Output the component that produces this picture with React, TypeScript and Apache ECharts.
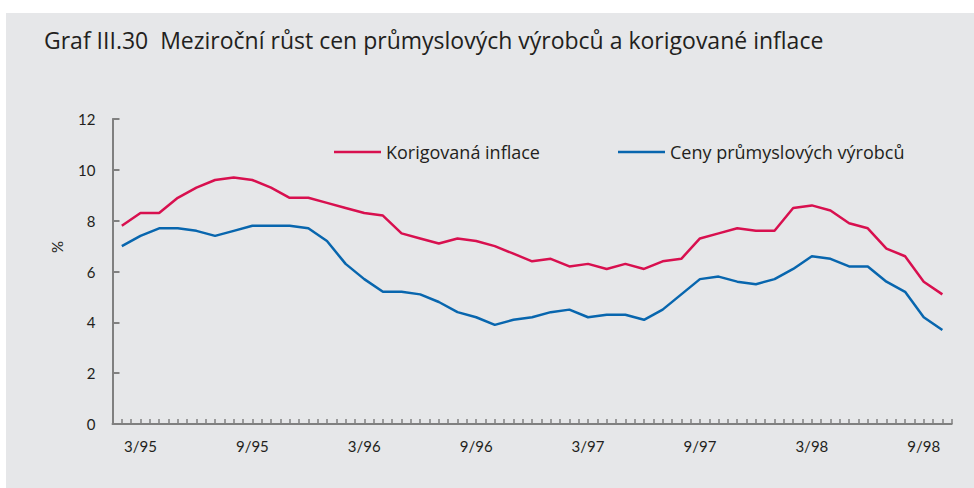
import React, { useEffect, useRef } from "react";
import * as echarts from "echarts";

const months = [
  "2/95", "3/95", "4/95", "5/95", "6/95", "7/95", "8/95", "9/95", "10/95", "11/95", "12/95",
  "1/96", "2/96", "3/96", "4/96", "5/96", "6/96", "7/96", "8/96", "9/96", "10/96", "11/96", "12/96",
  "1/97", "2/97", "3/97", "4/97", "5/97", "6/97", "7/97", "8/97", "9/97", "10/97", "11/97", "12/97",
  "1/98", "2/98", "3/98", "4/98", "5/98", "6/98", "7/98", "8/98", "9/98", "10/98",
];

const korigovanaInflace = [
  7.8, 8.3, 8.3, 8.9, 9.3, 9.6, 9.7, 9.6, 9.3, 8.9, 8.9,
  8.7, 8.5, 8.3, 8.2, 7.5, 7.3, 7.1, 7.3, 7.2, 7.0, 6.7, 6.4,
  6.5, 6.2, 6.3, 6.1, 6.3, 6.1, 6.4, 6.5, 7.3, 7.5, 7.7, 7.6,
  7.6, 8.5, 8.6, 8.4, 7.9, 7.7, 6.9, 6.6, 5.6, 5.1,
];

const cenyPrumyslovychVyrobcu = [
  7.0, 7.4, 7.7, 7.7, 7.6, 7.4, 7.6, 7.8, 7.8, 7.8, 7.7,
  7.2, 6.3, 5.7, 5.2, 5.2, 5.1, 4.8, 4.4, 4.2, 3.9, 4.1, 4.2,
  4.4, 4.5, 4.2, 4.3, 4.3, 4.1, 4.5, 5.1, 5.7, 5.8, 5.6, 5.5,
  5.7, 6.1, 6.6, 6.5, 6.2, 6.2, 5.6, 5.2, 4.2, 3.7,
];

const seriesNames = ["Korigovaná inflace", "Ceny průmyslových výrobců"];
const titleText = "Graf III.30  Meziroční růst cen průmyslových výrobců a korigované inflace";
const yUnit = "%";
const yMin = 0;
const yMax = 12;
const yStep = 2;

export default function App() {
  const ref = useRef<HTMLDivElement>(null);

  useEffect(() => {
    document.body.style.margin = "0";
    const chart = echarts.init(ref.current!, null, { renderer: "svg" });
    const font = "'Open Sans', Lato, sans-serif";
    const tickFont = "Lato, 'Open Sans', sans-serif";
    const textColor = "#231f20";
    const axisColor = "#808080";
    const red = "#d8104f";
    const blue = "#0866ae";
    chart.setOption({
      animation: false,
      backgroundColor: "#ffffff",
      textStyle: { fontFamily: font },
      graphic: [
        {
          type: "rect",
          z: -10,
          silent: true,
          shape: { x: 6, y: 13, width: 968, height: 475 },
          style: { fill: "#e6e7e9" },
        },
        {
          type: "text",
          x: 57,
          y: 247,
          rotation: Math.PI / 2,
          style: {
            text: yUnit,
            fill: textColor,
            font: `15px ${tickFont}`,
            textAlign: "center",
            textVerticalAlign: "middle",
          },
        },
      ],
      title: {
        text: titleText,
        left: 39,
        top: 23,
        textStyle: {
          fontFamily: font,
          fontSize: 23,
          fontWeight: "normal",
          color: textColor,
        },
      },
      legend: [
        {
          data: [seriesNames[0]],
          left: 334,
          top: 143,
          padding: 0,
          icon: "rect",
          itemWidth: 47,
          itemHeight: 2.5,
          textStyle: { fontFamily: font, fontSize: 18, color: textColor },
        },
        {
          data: [seriesNames[1]],
          left: 618,
          top: 143,
          padding: 0,
          icon: "rect",
          itemWidth: 47,
          itemHeight: 2.5,
          textStyle: { fontFamily: font, fontSize: 18, color: textColor },
        },
      ],
      grid: { left: 112.5, right: 22.3, top: 119, bottom: 64, containLabel: false },
      xAxis: [
        {
          type: "category",
          data: months,
          boundaryGap: true,
          position: "bottom",
          axisLine: { show: true, lineStyle: { color: axisColor, width: 2 } },
          axisTick: { show: false },
          axisLabel: {
            interval: (index: number) => index % 6 === 1,
            color: textColor,
            fontFamily: tickFont,
            fontSize: 15,
            margin: 14,
          },
          splitLine: { show: false },
        },
        {
          type: "value",
          min: 0,
          max: months.length * 2,
          interval: 1,
          position: "bottom",
          axisLine: { show: false },
          axisTick: { show: true, inside: true, length: 5, lineStyle: { color: axisColor, width: 1.5 } },
          axisLabel: { show: false },
          splitLine: { show: false },
        },
      ],
      yAxis: {
        type: "value",
        min: yMin,
        max: yMax,
        interval: yStep,
        axisLine: { show: true, lineStyle: { color: axisColor, width: 2 } },
        axisTick: { show: true, inside: true, length: 7, lineStyle: { color: axisColor, width: 2 } },
        axisLabel: { color: textColor, fontFamily: tickFont, fontSize: 15, margin: 17 },
        splitLine: { show: false },
      },
      series: [
        {
          name: seriesNames[0],
          type: "line",
          xAxisIndex: 0,
          data: korigovanaInflace,
          symbol: "none",
          color: red,
          lineStyle: { color: red, width: 2.5 },
        },
        {
          name: seriesNames[1],
          type: "line",
          xAxisIndex: 0,
          data: cenyPrumyslovychVyrobcu,
          symbol: "none",
          color: blue,
          lineStyle: { color: blue, width: 2.5 },
        },
      ],
    });
    return () => chart.dispose();
  }, []);

  return <div ref={ref} style={{ width: 974, height: 488 }} />;
}
